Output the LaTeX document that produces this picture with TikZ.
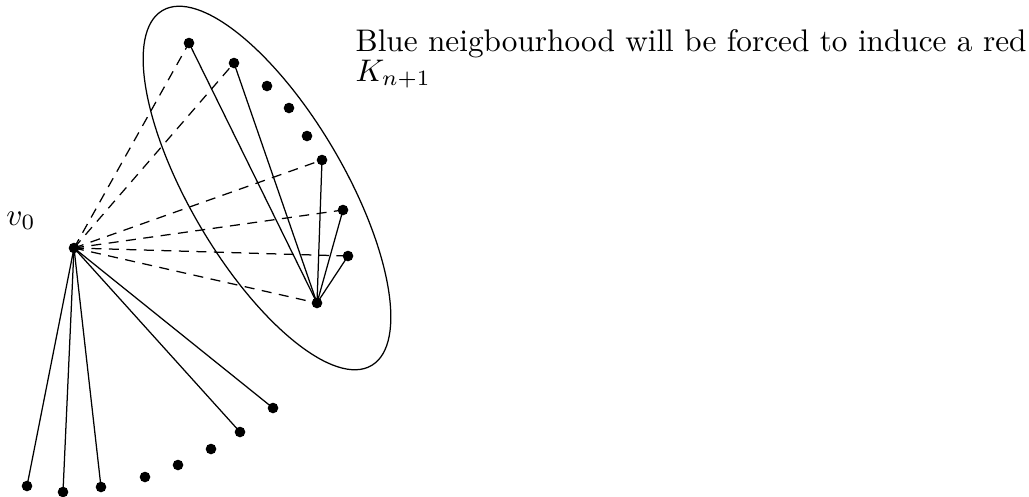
\documentclass[tikz,border=0pt]{standalone}
\begin{document}
\begin{tikzpicture}[x=0.32pt,y=0.32pt,
  vert/.style={circle,fill=black,inner sep=0pt,minimum size=3.4pt},
  dashedge/.style={dash pattern=on 3.2pt off 2.4pt},
  labeltext/.style={inner sep=0pt,font=\fontsize{10}{12}\selectfont}]
\useasboundingbox (0,0) rectangle (1029,-497);
% ellipse
\draw[rotate around={-59.5:(267,-188)}] (267,-188) ellipse [x radius=206, y radius=77];
% vertices
\node[vert] (v0) at (74,-248) {};
\node[labeltext, anchor=base] (lv0) at (21,-225) {$v_0$};
\node[vert] (a1) at (189,-43) {};
\node[vert] (a2) at (234,-63) {};
\node[vert] (d1) at (267,-86) {};
\node[vert] (d2) at (289,-108) {};
\node[vert] (d3) at (307,-136) {};
\node[vert] (b1) at (322,-160) {};
\node[vert] (b2) at (343,-210) {};
\node[vert] (b3) at (348,-256) {};
\node[vert] (h) at (317,-303) {};
\node[vert] (c1) at (27,-486) {};
\node[vert] (c2) at (63,-492) {};
\node[vert] (c3) at (101,-487) {};
\node[vert] (e1) at (145,-477) {};
\node[vert] (e2) at (178,-465) {};
\node[vert] (e3) at (211,-449) {};
\node[vert] (c4) at (240,-432) {};
\node[vert] (c5) at (273,-408) {};
% dashed edges
\foreach \t in {a1,a2,b1,b2,b3,h} \draw[dashedge] (v0.center) -- (\t.center);
% solid edges from hub
\foreach \t in {a1,a2,b1,b2,b3} \draw (h.center) -- (\t.center);
% solid edges from v0
\foreach \t in {c1,c2,c3,c4,c5} \draw (v0.center) -- (\t.center);
% text
\node[labeltext, anchor=base west] (t1) at (355,-51) {Blue neigbourhood will be forced to induce a red};
\node[labeltext, anchor=base west] (t2) at (355,-81) {$K_{n+1}$};
\end{tikzpicture}
\end{document}
